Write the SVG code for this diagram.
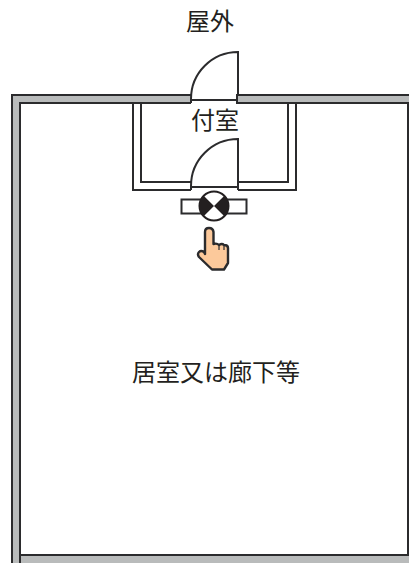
<svg xmlns="http://www.w3.org/2000/svg" width="409" height="563" viewBox="0 0 409 563">
<style>
text{font-family:"Noto Sans CJK JP",sans-serif;font-size:24px;fill:#231f20;text-anchor:middle}
.wall{fill:#b9bbbb}
.edge{fill:none;stroke:#2b2b2d;stroke-width:2}
.thin{fill:#fff;stroke:#2b2b2d;stroke-width:2}
</style>
<rect width="409" height="563" fill="#fff"/>
<g id="walls">
<path class="wall" d="M12 95H191V103H20V555H409V563H12Z"/>
<path class="wall" d="M237 95H409V103H237Z"/>
<path class="edge" d="M409 95H237V103H409M191 95H12V563M20 563V103H191M20 103V555H409M408 103V555"/>
<path class="edge" d="M133 104V190H191M141 104V182H191M296 104V190H238M288 104V182H238"/>
</g>
<g id="door-outer">
<path class="edge" d="M191 100H238M238 95V52A47 47 0 0 0 191 99V103"/>
</g>
<g id="door-inner">
<path class="edge" d="M191 187H238M238 190V139A47 47 0 0 0 191 186V190"/>
</g>
<g id="switch">
<rect class="thin" x="181.500" y="199.500" width="65" height="14"/>
<circle cx="214" cy="206" r="14.500" fill="#fff" stroke="#231f20" stroke-width="2"/>
<path fill="#231f20" d="M214 206L203.700 195.700A14.500 14.500 0 0 0 203.700 216.300ZM214 206L224.300 195.700A14.500 14.500 0 0 1 224.300 216.300Z"/>
</g>
<g id="hand">
<path fill="#fcc99b" stroke="#2b2b2d" stroke-width="2.400" stroke-linejoin="round" d="M205 232Q205 228 209 228Q213 228 213.500 232V244Q217 243 219 245Q222 243 224 245Q228 245 228 248V263L224 269.500H212L199 257Q197 254 199 252Q201 250 204 252L205 254Z"/>
<path fill="none" stroke="#2b2b2d" stroke-width="1.200" d="M219 245V250M224 245V250"/>
</g>
<g id="labels">
<text x="210" y="30">屋外</text>
<text x="215" y="129">付室</text>
<text x="216" y="381">居室又は廊下等</text>
</g>
</svg>
